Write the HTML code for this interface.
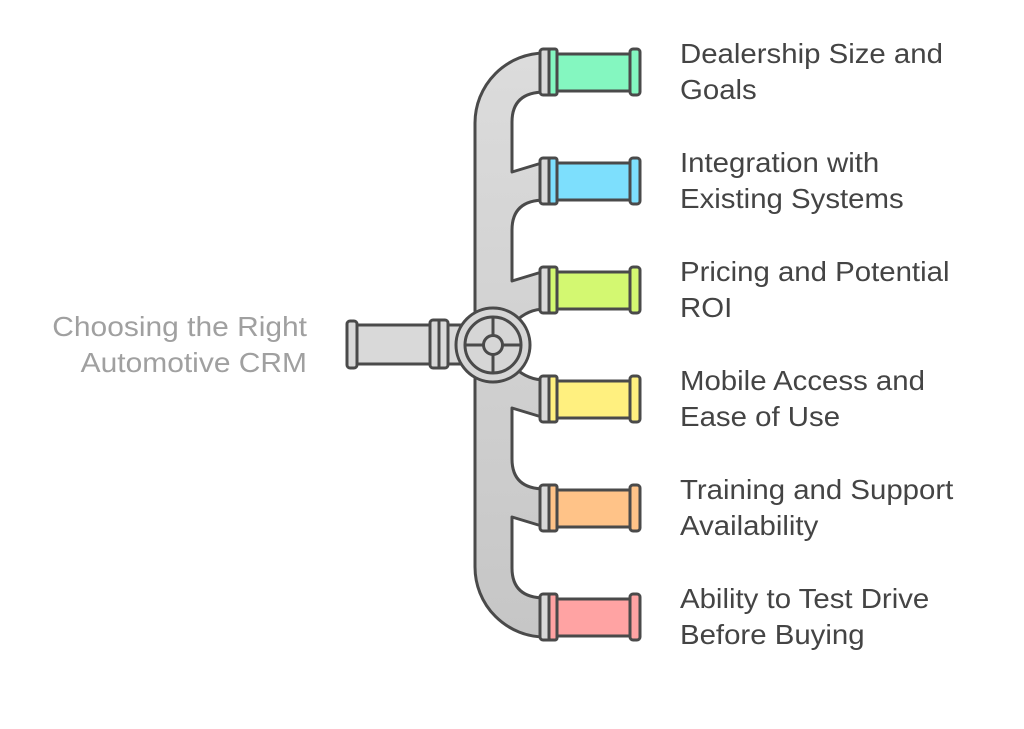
<!DOCTYPE html>
<html><head><meta charset="utf-8"><style>
html,body{margin:0;padding:0;background:#fff;}
svg{display:block;}
text{font-family:"Liberation Sans",sans-serif;}
</style></head><body>
<svg width="1024" height="729" viewBox="0 0 1024 729" xmlns="http://www.w3.org/2000/svg">
<defs>
<linearGradient id="g" x1="0" y1="0" x2="0" y2="1">
<stop offset="0" stop-color="#dcdcdc"/><stop offset="1" stop-color="#c6c6c6"/>
</linearGradient>
</defs>
<g stroke="#4a4a4a" stroke-width="3" stroke-linejoin="round">
<path fill="url(#g)" d="M545 53 A70 70 0 0 0 475 123 L475 567 A70 70 0 0 0 545 637 L545 598 Q512 598 512 568 L512 517 L545 527 L545 489 Q512 489 512 459 L512 408 L545 418 L545 380 Q528 380 515 368 L515 322 Q528 309 545 309 L545 271 L512 281 L512 230 Q512 200 545 200 L545 162 L512 172 L512 122 Q512 92 545 92 Z"/>
<rect x="352" y="325" width="110" height="39" fill="#d9d9d9"/>
<rect x="347" y="321" width="10" height="47" rx="3" fill="#d9d9d9"/>
<rect x="430" y="320" width="18" height="48" rx="3" fill="#d9d9d9"/>
<line x1="439" y1="320" x2="439" y2="368"/>
<circle cx="493" cy="345" r="37" fill="#d6d6d6"/>
<circle cx="493" cy="345" r="28" fill="#d6d6d6"/>
<line x1="465" y1="345" x2="521" y2="345"/>
<line x1="493" y1="317" x2="493" y2="373"/>
<circle cx="493" cy="345" r="9.5" fill="#d6d6d6"/>
</g>
<g stroke="#4a4a4a" stroke-width="3" stroke-linejoin="round">
<g transform="translate(0,72)"><rect x="557" y="-18" width="76" height="37" fill="#84f7c0"/><rect x="540" y="-23" width="17" height="46" rx="3" fill="#d9d9d9"/><rect x="549" y="-23" width="8" height="46" rx="2" fill="#84f7c0"/><rect x="630" y="-23" width="10" height="46" rx="3" fill="#84f7c0"/></g>
<g transform="translate(0,181)"><rect x="557" y="-18" width="76" height="37" fill="#7ddffd"/><rect x="540" y="-23" width="17" height="46" rx="3" fill="#d9d9d9"/><rect x="549" y="-23" width="8" height="46" rx="2" fill="#7ddffd"/><rect x="630" y="-23" width="10" height="46" rx="3" fill="#7ddffd"/></g>
<g transform="translate(0,290)"><rect x="557" y="-18" width="76" height="37" fill="#d3f871"/><rect x="540" y="-23" width="17" height="46" rx="3" fill="#d9d9d9"/><rect x="549" y="-23" width="8" height="46" rx="2" fill="#d3f871"/><rect x="630" y="-23" width="10" height="46" rx="3" fill="#d3f871"/></g>
<g transform="translate(0,399)"><rect x="557" y="-18" width="76" height="37" fill="#fff07f"/><rect x="540" y="-23" width="17" height="46" rx="3" fill="#d9d9d9"/><rect x="549" y="-23" width="8" height="46" rx="2" fill="#fff07f"/><rect x="630" y="-23" width="10" height="46" rx="3" fill="#fff07f"/></g>
<g transform="translate(0,508)"><rect x="557" y="-18" width="76" height="37" fill="#ffc388"/><rect x="540" y="-23" width="17" height="46" rx="3" fill="#d9d9d9"/><rect x="549" y="-23" width="8" height="46" rx="2" fill="#ffc388"/><rect x="630" y="-23" width="10" height="46" rx="3" fill="#ffc388"/></g>
<g transform="translate(0,617)"><rect x="557" y="-18" width="76" height="37" fill="#ffa3a3"/><rect x="540" y="-23" width="17" height="46" rx="3" fill="#d9d9d9"/><rect x="549" y="-23" width="8" height="46" rx="2" fill="#ffa3a3"/><rect x="630" y="-23" width="10" height="46" rx="3" fill="#ffa3a3"/></g>
</g>
<g font-size="28" fill="#444" transform="translate(680,0) scale(1.05,1)">
<text x="0" y="63">Dealership Size and</text><text x="0" y="99">Goals</text>
<text x="0" y="172">Integration with</text><text x="0" y="208">Existing Systems</text>
<text x="0" y="281">Pricing and Potential</text><text x="0" y="317">ROI</text>
<text x="0" y="390">Mobile Access and</text><text x="0" y="426">Ease of Use</text>
<text x="0" y="499">Training and Support</text><text x="0" y="535">Availability</text>
<text x="0" y="608">Ability to Test Drive</text><text x="0" y="644">Before Buying</text>
</g>
<g font-size="28" fill="#a0a0a0" text-anchor="end" transform="translate(307,0) scale(1.07,1)">
<text x="0" y="336">Choosing the Right</text><text x="0" y="372">Automotive CRM</text>
</g>
</svg>
</body></html>
